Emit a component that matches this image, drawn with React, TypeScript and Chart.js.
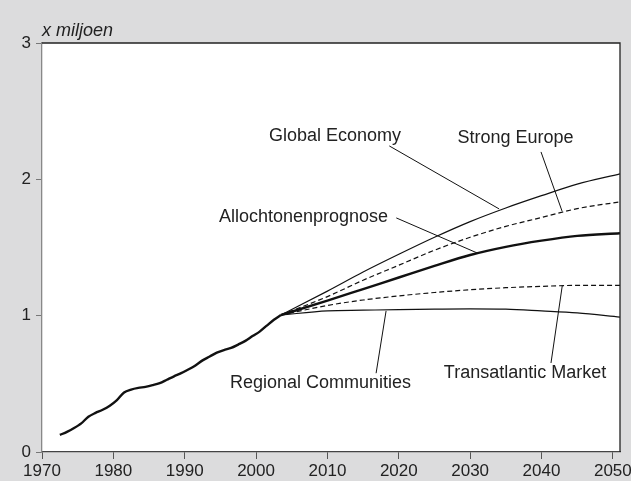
import React, { useEffect, useRef } from 'react';
import { Chart, registerables } from 'chart.js';

Chart.register(...registerables);

// Historical data (mid-year points), millions
const histYears = [1972.5, 1973.5, 1974.5, 1975.5, 1976.5, 1977.5, 1978.5, 1979.5, 1980.5, 1981.5, 1982.5, 1983.5, 1984.5, 1985.5, 1986.5, 1987.5, 1988.5, 1989.5, 1990.5, 1991.5, 1992.5, 1993.5, 1994.5, 1995.5, 1996.5, 1997.5, 1998.5, 1999.5, 2000.5, 2001.5, 2002.5, 2003.5];
const histValues = [0.125, 0.148, 0.176, 0.21, 0.259, 0.287, 0.31, 0.34, 0.381, 0.437, 0.458, 0.47, 0.478, 0.49, 0.505, 0.53, 0.555, 0.578, 0.605, 0.635, 0.672, 0.7, 0.729, 0.748, 0.763, 0.788, 0.815, 0.85, 0.883, 0.927, 0.97, 1.005];

// Projections
const projYears = [2003.5, 2010, 2015, 2020, 2025, 2030, 2035, 2040, 2045, 2051];
const globalEconomy = [1.005, 1.18, 1.32, 1.45, 1.575, 1.69, 1.79, 1.88, 1.965, 2.04];
const strongEurope = [1.005, 1.14, 1.26, 1.37, 1.48, 1.575, 1.655, 1.72, 1.785, 1.835];
const allochtonenprognose = [1.005, 1.11, 1.195, 1.28, 1.365, 1.445, 1.505, 1.55, 1.585, 1.605];
const transatlanticMarket = [1.005, 1.075, 1.115, 1.145, 1.17, 1.19, 1.205, 1.215, 1.222, 1.222];
const regionalCommunities = [1.005, 1.035, 1.04, 1.045, 1.048, 1.05, 1.048, 1.035, 1.02, 0.99];

const xTicks = [1970, 1980, 1990, 2000, 2010, 2020, 2030, 2040, 2050];
const yTicks = [0, 1, 2, 3];
const unitLabel = 'x miljoen';

// Scenario labels: text anchor (data coords) and pointer line (data coords)
const labelTexts = ['Global Economy', 'Strong Europe', 'Allochtonenprognose', 'Regional Communities', 'Transatlantic Market'];
const labelAnchors = [[2011.05, 2.315], [2036.36, 2.304], [2006.64, 1.724], [2009.02, 0.506], [2037.69, 0.58]];
const pointerFrom = [[2018.67, 2.245], [2039.93, 2.201], [2019.65, 1.717], [2016.82, 0.578], [2041.33, 0.653]];
const pointerTo = [[2034.06, 1.783], [2042.87, 1.768], [2030.98, 1.46], [2018.22, 1.035], [2042.91, 1.22]];

const FONT = "'Liberation Sans', Arial, Helvetica, sans-serif";

const toPoints = (xs: number[], ys: number[]) => xs.map((x, i) => ({ x, y: ys[i] }));

const decorPlugin = {
  id: 'decor',
  beforeDraw(chart: any) {
    const { ctx, chartArea: a, width, height } = chart;
    ctx.save();
    ctx.fillStyle = '#dcdcdd';
    ctx.fillRect(0, 0, width, height);
    ctx.fillStyle = '#ffffff';
    ctx.fillRect(a.left, a.top, a.right - a.left, a.bottom - a.top);
    ctx.restore();
  },
  afterDraw(chart: any) {
    const { ctx, chartArea: a, scales } = chart;
    const xs = scales.x;
    const ys = scales.y;
    ctx.save();
    // top and right frame
    ctx.strokeStyle = '#222222';
    ctx.lineWidth = 1.3;
    ctx.beginPath();
    ctx.moveTo(a.left, a.top);
    ctx.lineTo(a.right, a.top);
    ctx.lineTo(a.right, a.bottom);
    ctx.stroke();
    // unit label
    ctx.fillStyle = '#222222';
    ctx.font = `italic 18px ${FONT}`;
    ctx.textAlign = 'left';
    ctx.textBaseline = 'middle';
    ctx.fillText(unitLabel, a.left, a.top - 12);
    // scenario labels
    ctx.font = `18px ${FONT}`;
    ctx.textAlign = 'center';
    labelTexts.forEach((t, i) => {
      ctx.fillText(t, xs.getPixelForValue(labelAnchors[i][0]), ys.getPixelForValue(labelAnchors[i][1]));
    });
    ctx.strokeStyle = '#111111';
    ctx.lineWidth = 1;
    labelTexts.forEach((_, i) => {
      ctx.beginPath();
      ctx.moveTo(xs.getPixelForValue(pointerFrom[i][0]), ys.getPixelForValue(pointerFrom[i][1]));
      ctx.lineTo(xs.getPixelForValue(pointerTo[i][0]), ys.getPixelForValue(pointerTo[i][1]));
      ctx.stroke();
    });
    ctx.restore();
  },
};

export default function App() {
  const ref = useRef<HTMLCanvasElement | null>(null);
  useEffect(() => {
    if (!ref.current) return;
    const thin = { borderColor: '#111111', borderWidth: 1.2, pointRadius: 0, cubicInterpolationMode: 'monotone' as const };
    const chart = new Chart(ref.current, {
      type: 'line',
      data: {
        datasets: [
          { label: 'hist', data: toPoints(histYears, histValues), borderColor: '#111111', borderWidth: 2.4, pointRadius: 0, tension: 0.3 },
          { label: 'Global Economy', data: toPoints(projYears, globalEconomy), ...thin },
          { label: 'Strong Europe', data: toPoints(projYears, strongEurope), ...thin, borderDash: [5, 3] },
          { label: 'Allochtonenprognose', data: toPoints(projYears, allochtonenprognose), ...thin, borderWidth: 2.4 },
          { label: 'Transatlantic Market', data: toPoints(projYears, transatlanticMarket), ...thin, borderDash: [5, 3] },
          { label: 'Regional Communities', data: toPoints(projYears, regionalCommunities), ...thin },
        ] as any,
      },
      options: {
        animation: false,
        responsive: false,
        devicePixelRatio: 1,
        layout: { padding: { top: 43, right: 11, left: 0, bottom: 0 } },
        plugins: { legend: { display: false }, tooltip: { enabled: false }, title: { display: false } },
        scales: {
          x: {
            type: 'linear',
            min: 1970,
            max: 2051,
            afterBuildTicks: (s: any) => { s.ticks = xTicks.map((v) => ({ value: v })); },
            afterFit: (s: any) => { s.height = 29; s.paddingLeft = 0; s.paddingRight = 0; },
            border: { display: true, color: '#444444', width: 1.3 },
            grid: { display: true, drawOnChartArea: false, drawTicks: true, tickLength: 7, color: '#555555' },
            ticks: { color: '#222222', font: { family: FONT, size: 17 }, padding: 2, maxRotation: 0, autoSkip: false, callback: (v: any) => String(v) },
          },
          y: {
            type: 'linear',
            min: 0,
            max: 3,
            afterBuildTicks: (s: any) => { s.ticks = yTicks.map((v) => ({ value: v })); },
            afterFit: (s: any) => { s.width = 42; s.paddingTop = 0; s.paddingBottom = 0; },
            border: { display: true, color: '#888888', width: 1.3 },
            grid: { display: true, drawOnChartArea: false, drawTicks: true, tickLength: 6, color: '#777777' },
            ticks: { color: '#222222', font: { family: FONT, size: 17 }, padding: 5, callback: (v: any) => String(v) },
          },
        },
      },
      plugins: [decorPlugin],
    });
    return () => chart.destroy();
  }, []);
  return (
    <div style={{ position: 'absolute', left: 0, top: 0, width: 631, height: 481 }}>
      <canvas ref={ref} width={631} height={481} />
    </div>
  );
}
